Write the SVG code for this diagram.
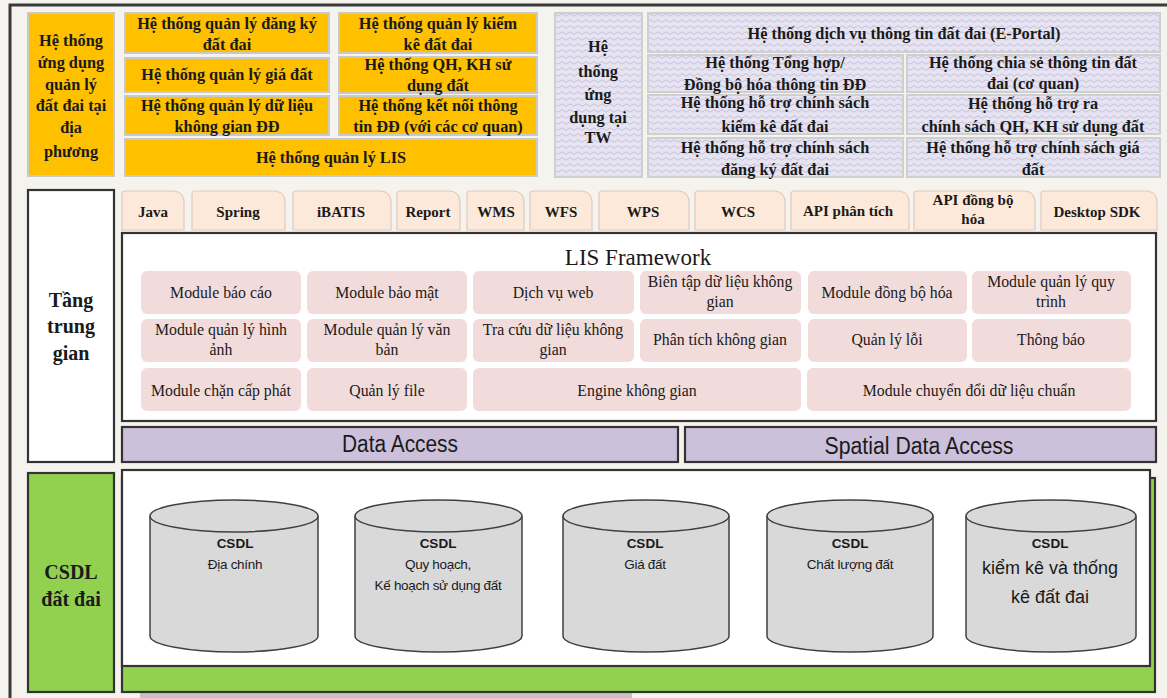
<svg xmlns="http://www.w3.org/2000/svg" width="1167" height="698" viewBox="0 0 1167 698">
  <defs>
    <!-- lavender wave texture for the central (TW) systems -->
    <pattern id="wave" width="8" height="6" patternUnits="userSpaceOnUse">
      <rect width="8" height="6" fill="#e7e4f1"/>
      <path d="M0 3 Q2 0.5 4 3 T8 3" fill="none" stroke="#bdb6d9" stroke-width="0.8"/>
    </pattern>
  </defs>
  <style>
    .orange { fill: #ffc000; stroke: #c9c9c9; stroke-width: 2; }
    .tw { fill: url(#wave); stroke: #cfcfcf; stroke-width: 2; }
    .frame { fill: #ffffff; stroke: #333333; stroke-width: 2.2; }
    .tab { fill: #fde9d9; stroke: #e3c9bd; stroke-width: 1.2; }
    .mod { fill: #f2dcdb; stroke: none; }
    .access { fill: #ccc0da; stroke: #333333; stroke-width: 2.2; }
    .green { fill: #92d050; stroke: #333333; stroke-width: 2.2; }
    .cyl { fill: #d9d9d9; stroke: #404040; stroke-width: 1.5; }
    text { text-anchor: middle; fill: #1a1a1a; }
    .tb { font-family: "Liberation Serif", "DejaVu Serif", serif; font-weight: bold; font-size: 16.3px; }
    .big { font-family: "Liberation Serif", "DejaVu Serif", serif; font-weight: bold; font-size: 20px; }
    .tabt { font-family: "Liberation Serif", "DejaVu Serif", serif; font-weight: bold; font-size: 15px; }
    .modt { font-family: "Liberation Serif", "DejaVu Serif", serif; font-size: 15.8px; }
    .title { font-family: "Liberation Serif", "DejaVu Serif", serif; font-size: 23px; }
    .acc { font-family: "Liberation Sans", sans-serif; font-size: 23px; }
    .db { font-family: "Liberation Sans", sans-serif; font-size: 13.5px; letter-spacing: -0.3px; }
    .dbb { font-family: "Liberation Sans", sans-serif; font-size: 13.5px; font-weight: bold; }
    .dbl { font-family: "Liberation Sans", sans-serif; font-size: 18px; }
  </style>

  <!-- page background and outer frame -->
  <rect width="1167" height="698" fill="#f4f3ee"/>
  <path d="M10 698 V5 H1167" fill="none" stroke="#3a3a3a" stroke-width="3"/>
  <rect x="140" y="693" width="492" height="5" fill="#c9c2c2"/>

  <!-- local application systems -->
  <g id="local-apps">
    <rect class="orange" x="28" y="13" width="86" height="163"/>
    <text class="tb" x="71" y="46">Hệ thống</text>
    <text class="tb" x="71" y="68">ứng dụng</text>
    <text class="tb" x="71" y="90">quản lý</text>
    <text class="tb" x="71" y="111">đất đai tại</text>
    <text class="tb" x="71" y="133">địa</text>
    <text class="tb" x="71" y="157">phương</text>
  </g>
  <g id="sys-dangky">
    <rect class="orange" x="125" y="13" width="204" height="40"/>
    <text class="tb" x="227" y="29">Hệ thống quản lý đăng ký</text>
    <text class="tb" x="227" y="50">đất đai</text>
  </g>
  <g id="sys-gia">
    <rect class="orange" x="125" y="58" width="204" height="34"/>
    <text class="tb" x="227" y="80">Hệ thống quản lý giá đất</text>
  </g>
  <g id="sys-khonggian">
    <rect class="orange" x="125" y="96" width="204" height="39"/>
    <text class="tb" x="227" y="111">Hệ thống quản lý dữ liệu</text>
    <text class="tb" x="227" y="132">không gian ĐĐ</text>
  </g>
  <g id="sys-lis">
    <rect class="orange" x="125" y="139" width="412" height="37"/>
    <text class="tb" x="331" y="163">Hệ thống quản lý LIS</text>
  </g>
  <g id="sys-kiemke">
    <rect class="orange" x="339" y="13" width="198" height="40"/>
    <text class="tb" x="438" y="29">Hệ thống quản lý kiểm</text>
    <text class="tb" x="438" y="50">kê đất đai</text>
  </g>
  <g id="sys-qhkh">
    <rect class="orange" x="339" y="57" width="198" height="36"/>
    <text class="tb" x="438" y="70">Hệ thống QH, KH sử</text>
    <text class="tb" x="438" y="91">dụng đất</text>
  </g>
  <g id="sys-ketnoi">
    <rect class="orange" x="339" y="96" width="198" height="39"/>
    <text class="tb" x="438" y="111">Hệ thống kết nối thông</text>
    <text class="tb" x="438" y="132">tin ĐĐ (với các cơ quan)</text>
  </g>

  <!-- central (TW) application systems -->
  <g id="tw-apps">
    <rect class="tw" x="555" y="13" width="87" height="164"/>
    <text class="tb" x="598" y="52">Hệ</text>
    <text class="tb" x="598" y="77">thống</text>
    <text class="tb" x="598" y="100">ứng</text>
    <text class="tb" x="598" y="123">dụng tại</text>
    <text class="tb" x="598" y="143">TW</text>
  </g>
  <g id="tw-eportal">
    <rect class="tw" x="648" y="13" width="512" height="39"/>
    <text class="tb" x="904" y="39">Hệ thống dịch vụ thông tin đất đai (E-Portal)</text>
  </g>
  <g id="tw-tonghop">
    <rect class="tw" x="648" y="55" width="255" height="37"/>
    <text class="tb" x="775" y="68">Hệ thống Tổng hợp/</text>
    <text class="tb" x="775" y="90">Đồng bộ hóa thông tin ĐĐ</text>
  </g>
  <g id="tw-kiemke">
    <rect class="tw" x="648" y="95" width="255" height="39"/>
    <text class="tb" x="775" y="108">Hệ thống hỗ trợ chính sách</text>
    <text class="tb" x="775" y="132">kiểm kê đất đai</text>
  </g>
  <g id="tw-dangky">
    <rect class="tw" x="648" y="138" width="255" height="39"/>
    <text class="tb" x="775" y="153">Hệ thống hỗ trợ chính sách</text>
    <text class="tb" x="775" y="175">đăng ký đất đai</text>
  </g>
  <g id="tw-chiase">
    <rect class="tw" x="907" y="55" width="253" height="37"/>
    <text class="tb" x="1033" y="68">Hệ thống chia sẻ thông tin đất</text>
    <text class="tb" x="1033" y="89">đai (cơ quan)</text>
  </g>
  <g id="tw-qhkh">
    <rect class="tw" x="907" y="95" width="253" height="39"/>
    <text class="tb" x="1033" y="109">Hệ thống hỗ trợ ra</text>
    <text class="tb" x="1033" y="132">chính sách QH, KH sử dụng đất</text>
  </g>
  <g id="tw-gia">
    <rect class="tw" x="907" y="138" width="253" height="39"/>
    <text class="tb" x="1033" y="153">Hệ thống hỗ trợ chính sách giá</text>
    <text class="tb" x="1033" y="175">đất</text>
  </g>

  <!-- middleware layer label -->
  <g id="middleware-label">
    <rect class="frame" x="28" y="190" width="86" height="272"/>
    <text class="big" x="71" y="307">Tầng</text>
    <text class="big" x="71" y="333">trung</text>
    <text class="big" x="71" y="360">gian</text>
  </g>

  <!-- technology tabs -->
  <g id="tabs">
    <path class="tab" d="M122 230 V194 Q122 191 125 191 H172 Q184 191 184 203 V230 Z"/>
    <text class="tabt" x="153" y="217">Java</text>
    <path class="tab" d="M192 230 V194 Q192 191 195 191 H273 Q285 191 285 203 V230 Z"/>
    <text class="tabt" x="238" y="217">Spring</text>
    <path class="tab" d="M293 230 V194 Q293 191 296 191 H379 Q391 191 391 203 V230 Z"/>
    <text class="tabt" x="341" y="217">iBATIS</text>
    <path class="tab" d="M397 230 V194 Q397 191 400 191 H448 Q460 191 460 203 V230 Z"/>
    <text class="tabt" x="428" y="217">Report</text>
    <path class="tab" d="M467 230 V194 Q467 191 470 191 H512 Q524 191 524 203 V230 Z"/>
    <text class="tabt" x="496" y="217">WMS</text>
    <path class="tab" d="M530 230 V194 Q530 191 533 191 H580 Q592 191 592 203 V230 Z"/>
    <text class="tabt" x="561" y="217">WFS</text>
    <path class="tab" d="M599 230 V194 Q599 191 602 191 H677 Q689 191 689 203 V230 Z"/>
    <text class="tabt" x="643" y="217">WPS</text>
    <path class="tab" d="M695 230 V194 Q695 191 698 191 H773 Q785 191 785 203 V230 Z"/>
    <text class="tabt" x="738" y="217">WCS</text>
    <path class="tab" d="M791 230 V194 Q791 191 794 191 H897 Q909 191 909 203 V230 Z"/>
    <text class="tabt" x="848" y="216">API phân tích</text>
    <path class="tab" d="M914 230 V194 Q914 191 917 191 H1023 Q1035 191 1035 203 V230 Z"/>
    <text class="tabt" x="973" y="205">API đồng bộ</text>
    <text class="tabt" x="973" y="224">hóa</text>
    <path class="tab" d="M1041 230 V194 Q1041 191 1044 191 H1145 Q1157 191 1157 203 V230 Z"/>
    <text class="tabt" x="1097" y="217">Desktop SDK</text>
  </g>

  <!-- LIS framework -->
  <g id="lis-framework">
    <rect class="frame" x="122" y="233" width="1034" height="188"/>
    <text class="title" x="638" y="265">LIS Framework</text>
  </g>
  <g id="modules">
    <rect class="mod" x="141" y="271" width="160" height="43" rx="6"/>
    <text class="modt" x="221" y="298">Module báo cáo</text>
    <rect class="mod" x="307" y="271" width="160" height="43" rx="6"/>
    <text class="modt" x="387" y="298">Module bảo mật</text>
    <rect class="mod" x="473" y="271" width="161" height="43" rx="6"/>
    <text class="modt" x="553" y="298">Dịch vụ web</text>
    <rect class="mod" x="640" y="271" width="161" height="43" rx="6"/>
    <text class="modt" x="720" y="287">Biên tập dữ liệu không</text>
    <text class="modt" x="720" y="307">gian</text>
    <rect class="mod" x="808" y="271" width="159" height="43" rx="6"/>
    <text class="modt" x="887" y="298">Module đồng bộ hóa</text>
    <rect class="mod" x="972" y="271" width="159" height="43" rx="6"/>
    <text class="modt" x="1051" y="287">Module quản lý quy</text>
    <text class="modt" x="1051" y="307">trình</text>

    <rect class="mod" x="141" y="319" width="160" height="43" rx="6"/>
    <text class="modt" x="221" y="335">Module quản lý hình</text>
    <text class="modt" x="221" y="355">ảnh</text>
    <rect class="mod" x="307" y="319" width="160" height="43" rx="6"/>
    <text class="modt" x="387" y="335">Module quản lý văn</text>
    <text class="modt" x="387" y="355">bản</text>
    <rect class="mod" x="473" y="319" width="161" height="43" rx="6"/>
    <text class="modt" x="553" y="335">Tra cứu dữ liệu không</text>
    <text class="modt" x="553" y="355">gian</text>
    <rect class="mod" x="640" y="319" width="161" height="43" rx="6"/>
    <text class="modt" x="720" y="345">Phân tích không gian</text>
    <rect class="mod" x="808" y="319" width="159" height="43" rx="6"/>
    <text class="modt" x="887" y="345">Quản lý lỗi</text>
    <rect class="mod" x="972" y="319" width="159" height="43" rx="6"/>
    <text class="modt" x="1051" y="345">Thông báo</text>

    <rect class="mod" x="141" y="368" width="160" height="43" rx="6"/>
    <text class="modt" x="221" y="396">Module chặn cấp phát</text>
    <rect class="mod" x="307" y="368" width="160" height="43" rx="6"/>
    <text class="modt" x="387" y="396">Quản lý file</text>
    <rect class="mod" x="473" y="368" width="328" height="43" rx="6"/>
    <text class="modt" x="637" y="396">Engine không gian</text>
    <rect class="mod" x="807" y="368" width="324" height="43" rx="6"/>
    <text class="modt" x="969" y="396">Module chuyển đổi dữ liệu chuẩn</text>
  </g>

  <!-- data access layers -->
  <g id="data-access">
    <rect class="access" x="122" y="427" width="556" height="35"/>
    <text class="acc" x="400" y="452" textLength="116" lengthAdjust="spacingAndGlyphs">Data Access</text>
  </g>
  <g id="spatial-data-access">
    <rect class="access" x="685" y="427" width="471" height="35"/>
    <text class="acc" x="919" y="454" textLength="189" lengthAdjust="spacingAndGlyphs">Spatial Data Access</text>
  </g>

  <!-- land database layer -->
  <g id="db-label">
    <rect class="green" x="28" y="473" width="86" height="219"/>
    <text class="big" x="71" y="579">CSDL</text>
    <text class="big" x="71" y="606">đất đai</text>
  </g>
  <g id="db-container">
    <rect class="green" x="122" y="478" width="1033" height="214"/>
    <rect class="frame" x="122" y="470" width="1028" height="196"/>
  </g>

  <g id="db-diachinh">
    <path class="cyl" d="M150 516 V636 A84 16 0 0 0 318 636 V516"/>
    <ellipse class="cyl" cx="234" cy="516" rx="84" ry="16"/>
    <text class="dbb" x="235" y="548">CSDL</text>
    <text class="db" x="235" y="569">Địa chính</text>
  </g>
  <g id="db-quyhoach">
    <path class="cyl" d="M355 516 V636 A83.5 16 0 0 0 522 636 V516"/>
    <ellipse class="cyl" cx="438.5" cy="516" rx="83.5" ry="16"/>
    <text class="dbb" x="438" y="548">CSDL</text>
    <text class="db" x="438" y="569">Quy hoạch,</text>
    <text class="db" x="438" y="590">Kế hoạch  sử dụng đất</text>
  </g>
  <g id="db-giadat">
    <path class="cyl" d="M563 516 V636 A83 16 0 0 0 729 636 V516"/>
    <ellipse class="cyl" cx="646" cy="516" rx="83" ry="16"/>
    <text class="dbb" x="645" y="548">CSDL</text>
    <text class="db" x="645" y="569">Giá đất</text>
  </g>
  <g id="db-chatluong">
    <path class="cyl" d="M767 516 V636 A83 16 0 0 0 933 636 V516"/>
    <ellipse class="cyl" cx="850" cy="516" rx="83" ry="16"/>
    <text class="dbb" x="850" y="548">CSDL</text>
    <text class="db" x="850" y="569">Chất lượng đất</text>
  </g>
  <g id="db-kiemke">
    <path class="cyl" d="M966 516 V636 A85 16 0 0 0 1136 636 V516"/>
    <ellipse class="cyl" cx="1051" cy="516" rx="85" ry="16"/>
    <text class="dbb" x="1050" y="548">CSDL</text>
    <text class="dbl" x="1050" y="574">kiểm kê và thống</text>
    <text class="dbl" x="1050" y="603">kê đất đai</text>
  </g>
</svg>
